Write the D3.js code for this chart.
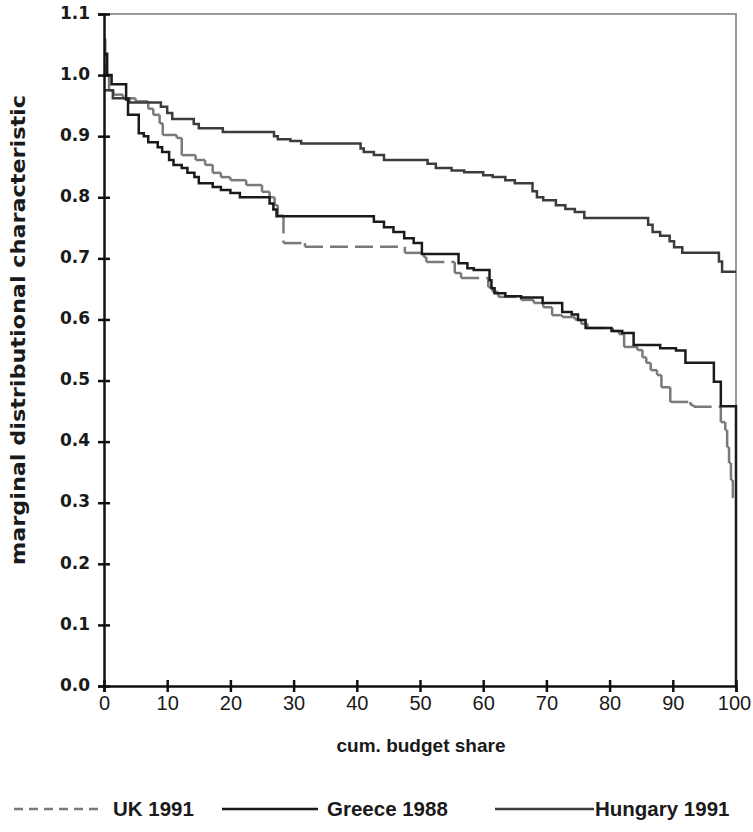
<!DOCTYPE html>
<html>
<head>
<meta charset="utf-8">
<script src="https://d3js.org/d3.v7.min.js"></script>
<style>
  body { margin: 0; background: #fff; }
  text { font-family: "Liberation Sans", Arial, sans-serif; }
</style>
</head>
<body>
<div id="chart"></div>
<script>
// step data: level y[i] starts at x[i]
var ukX = [0, 0.2, 0.8, 1.5, 3.0, 5.0, 7.0, 7.8, 8.8, 9.3, 11.5, 12.3, 14.5, 16.0, 17.2, 18.5, 20.0, 22.5, 25.0, 26.2, 27.0, 27.5, 28.4, 31.8, 47.6, 50.6, 51.0, 55.5, 56.5, 60.8, 61.5, 62.4, 66.0, 68.0, 69.5, 70.9, 72.5, 74.5, 75.5, 76.5, 80.5, 81.5, 82.3, 84.4, 85.2, 85.8, 86.5, 87.5, 88.2, 89.6, 92.8, 93.3, 97.6, 98.3, 98.6, 98.9, 99.2, 99.5];
var ukY = [1.06, 1.0, 0.975, 0.968, 0.962, 0.957, 0.945, 0.935, 0.921, 0.902, 0.897, 0.869, 0.861, 0.853, 0.84, 0.833, 0.828, 0.82, 0.809, 0.80, 0.787, 0.770, 0.725, 0.719, 0.709, 0.702, 0.694, 0.676, 0.668, 0.653, 0.645, 0.637, 0.632, 0.627, 0.62, 0.607, 0.604, 0.60, 0.593, 0.586, 0.581, 0.576, 0.555, 0.55, 0.538, 0.529, 0.517, 0.509, 0.489, 0.465, 0.46, 0.457, 0.432, 0.419, 0.391, 0.365, 0.337, 0.305];

var greeceX = [0, 0.5, 1.2, 3.5, 3.8, 5.5, 6.3, 7.0, 8.5, 9.2, 10.3, 11.0, 12.3, 13.2, 14.3, 15.0, 17.2, 18.5, 20.0, 21.5, 26.2, 26.8, 27.3, 42.7, 44.3, 45.8, 47.5, 49.0, 50.3, 56.1, 57.5, 58.5, 61.0, 61.3, 61.8, 63.5, 66.0, 69.4, 72.5, 74.0, 75.0, 76.2, 80.3, 82.0, 83.8, 88.0, 90.5, 92.0, 96.5, 97.6, 100, 100];
var greeceY = [1.035, 1.0, 0.985, 0.96, 0.935, 0.905, 0.9, 0.89, 0.882, 0.874, 0.861, 0.853, 0.848, 0.84, 0.833, 0.823, 0.817, 0.812, 0.807, 0.80, 0.79, 0.78, 0.769, 0.76, 0.751, 0.743, 0.733, 0.725, 0.707, 0.692, 0.684, 0.681, 0.664, 0.651, 0.643, 0.638, 0.636, 0.627, 0.612, 0.608, 0.599, 0.586, 0.581, 0.578, 0.558, 0.553, 0.549, 0.529, 0.498, 0.458, 0.458, 0];

var hungaryX = [0, 1.4, 4.0, 9.0, 10.0, 10.8, 14.2, 15.0, 18.8, 26.9, 27.5, 29.5, 31.2, 40.6, 41.1, 42.7, 44.3, 51.2, 52.5, 55.0, 57.0, 60.0, 61.5, 63.5, 65.0, 67.8, 68.5, 69.5, 71.5, 73.0, 74.5, 76.0, 86.1, 86.8, 88.0, 89.5, 90.2, 91.5, 97.3, 97.8, 100];
var hungaryY = [0.975, 0.962, 0.955, 0.948, 0.938, 0.928, 0.92, 0.913, 0.907, 0.90, 0.895, 0.892, 0.888, 0.88, 0.874, 0.869, 0.861, 0.855, 0.848, 0.844, 0.841, 0.836, 0.833, 0.828, 0.823, 0.81, 0.80, 0.795, 0.787, 0.781, 0.776, 0.766, 0.755, 0.743, 0.737, 0.728, 0.718, 0.709, 0.695, 0.678, 0.678];

var xTicks = [0, 10, 20, 30, 40, 50, 60, 70, 80, 90, 100];
var yTicks = [0, 0.1, 0.2, 0.3, 0.4, 0.5, 0.6, 0.7, 0.8, 0.9, 1.0, 1.1];

var width = 753, height = 832;
var svg = d3.select("#chart").append("svg")
  .attr("width", width)
  .attr("height", height);

var x = d3.scaleLinear().domain([0, 100]).range([104, 736]);
var y = d3.scaleLinear().domain([0, 1.1]).range([686, 14]);

// plot area border (grey, top and right)
svg.append("path")
  .attr("d", "M" + x(0) + "," + y(1.1) + "H" + x(100) + "V" + y(0))
  .attr("fill", "none")
  .attr("stroke", "#9a9a9a")
  .attr("stroke-width", 2);

function toPts(xa, ya) {
  return xa.map(function(d, i) { return [d, ya[i]]; });
}

var line = d3.line()
  .x(function(d) { return x(d[0]); })
  .y(function(d) { return y(d[1]); })
  .curve(d3.curveStepAfter);

// UK drawn segment by segment so the dash restarts on every step
var ukPts = toPts(ukX, ukY);
var ukSegs = [];
for (var i = 0; i < ukPts.length - 1; i++) {
  ukSegs.push([ukPts[i], [ukPts[i + 1][0], ukPts[i][1]]]);
  ukSegs.push([[ukPts[i + 1][0], ukPts[i][1]], ukPts[i + 1]]);
}
svg.append("g").selectAll("line")
  .data(ukSegs)
  .enter().append("line")
  .attr("x1", function(d) { return x(d[0][0]); })
  .attr("y1", function(d) { return y(d[0][1]); })
  .attr("x2", function(d) { return x(d[1][0]); })
  .attr("y2", function(d) { return y(d[1][1]); })
  .attr("stroke", "#7a7a7a")
  .attr("stroke-width", 2.5)
  .attr("stroke-dasharray", "18,7");

svg.append("path")
  .datum(toPts(hungaryX, hungaryY))
  .attr("d", line)
  .attr("fill", "none")
  .attr("stroke", "#3c3c3c")
  .attr("stroke-width", 2.5);

svg.append("path")
  .datum(toPts(greeceX, greeceY))
  .attr("d", line)
  .attr("fill", "none")
  .attr("stroke", "#1a1a1a")
  .attr("stroke-width", 2.5);

// axes
var yAxis = svg.append("g").attr("transform", "translate(" + x(0) + ",0)")
  .call(d3.axisLeft(y).tickValues(yTicks).tickSize(6).tickFormat(d3.format(".1f")));
yAxis.select(".domain").attr("stroke", "#111").attr("stroke-width", 2.5);
yAxis.selectAll(".tick line").attr("x1", 6).attr("x2", -6).attr("stroke", "#111").attr("stroke-width", 2.5);
yAxis.selectAll(".tick text")
  .attr("x", -14)
  .attr("dy", "0.25em")
  .style("font-family", "'DejaVu Sans', sans-serif")
  .style("font-weight", "bold")
  .style("font-size", "17px")
  .attr("fill", "#1a1a1a");

var xAxis = svg.append("g").attr("transform", "translate(0," + y(0) + ")")
  .call(d3.axisBottom(x).tickValues(xTicks).tickSize(6));
xAxis.select(".domain").attr("stroke", "#111").attr("stroke-width", 2.5);
xAxis.selectAll(".tick line").attr("y1", -6).attr("y2", 6).attr("stroke", "#111").attr("stroke-width", 2.5);
xAxis.selectAll(".tick text")
  .attr("y", 10)
  .attr("dx", function(d) { return d === 100 ? -2 : 0; })
  .style("font-family", "'Liberation Sans', Arial, sans-serif")
  .style("font-size", "20px")
  .attr("fill", "#1a1a1a");

// axis titles
svg.append("text")
  .attr("x", 421)
  .attr("y", 752)
  .attr("text-anchor", "middle")
  .style("font-size", "19px")
  .style("font-weight", "bold")
  .attr("fill", "#1a1a1a")
  .text("cum. budget share");

svg.append("text")
  .attr("transform", "translate(25,330) rotate(-90)")
  .attr("text-anchor", "middle")
  .attr("textLength", 470)
  .attr("lengthAdjust", "spacingAndGlyphs")
  .style("font-family", "'DejaVu Sans', sans-serif")
  .style("font-size", "20px")
  .style("font-weight", "bold")
  .attr("fill", "#1a1a1a")
  .text("marginal distributional characteristic");

// legend
var legend = [
  {name: "UK 1991", x1: 14, x2: 104, tx: 113, color: "#7a7a7a", dash: "9,6"},
  {name: "Greece 1988", x1: 222, x2: 318, tx: 327, color: "#1a1a1a", dash: null},
  {name: "Hungary 1991", x1: 495, x2: 594, tx: 595, color: "#3c3c3c", dash: null}
];
var lg = svg.append("g").selectAll("g").data(legend).enter().append("g");
lg.append("line")
  .attr("x1", function(d) { return d.x1; })
  .attr("x2", function(d) { return d.x2; })
  .attr("y1", 809).attr("y2", 809)
  .attr("stroke", function(d) { return d.color; })
  .attr("stroke-width", 2.5)
  .attr("stroke-dasharray", function(d) { return d.dash; });
lg.append("text")
  .attr("x", function(d) { return d.tx; })
  .attr("y", 816)
  .style("font-size", "20.5px")
  .style("font-weight", "bold")
  .attr("fill", "#1a1a1a")
  .text(function(d) { return d.name; });
</script>
</body>
</html>
